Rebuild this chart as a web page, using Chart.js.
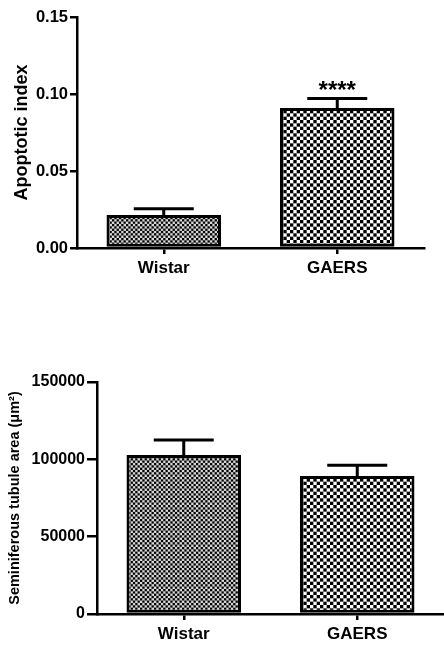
<!DOCTYPE html>
<html>
<head>
<meta charset="utf-8">
<script src="https://cdn.jsdelivr.net/npm/chart.js@4.4.1/dist/chart.umd.min.js"></script>
<style>
  html, body { margin: 0; padding: 0; background: #fff; }
  body { width: 444px; height: 646px; position: relative; overflow: hidden; }
  .box { position: absolute; left: 0; width: 444px; }
  #topBox { top: 0; height: 285px; }
  #bottomBox { top: 365px; height: 281px; }
</style>
</head>
<body>
<div class="box" id="topBox"><canvas id="apoptosisChart"></canvas></div>
<div class="box" id="bottomBox"><canvas id="tubuleChart"></canvas></div>
<script>
// data
const groups = ['Wistar', 'GAERS'];
const apoptoticMean = [0.0214, 0.0909];
const apoptoticSem = [0.0041, 0.0061];
const apoptoticStars = ['', '****'];
const apoptoticTicks = [0, 0.05, 0.10, 0.15];
const tubuleMean = [102800, 89200];
const tubuleSem = [9700, 6900];
const tubuleTicks = [0, 50000, 100000, 150000];

Chart.defaults.font.family = '"Liberation Sans", Arial, sans-serif';
Chart.defaults.font.weight = 'bold';
Chart.defaults.color = '#000';

// checkerboard fills like the GraphPad patterns
function checker(cell, light) {
    const c = document.createElement('canvas');
    c.width = Math.round(cell * 6);
    c.height = Math.round(cell * 6);
    const g = c.getContext('2d');
    g.fillStyle = light;
    g.fillRect(0, 0, c.width, c.height);
    g.fillStyle = '#000';
    for (let i = 0; i < 6; i++) {
        for (let j = 0; j < 6; j++) {
            if ((i + j) % 2 === 0) g.fillRect(i * cell, j * cell, cell, cell);
        }
    }
    return g.createPattern(c, 'repeat');
}

const finePattern = checker(2.3, '#d8d8d8');
const coarsePattern = checker(10 / 3, '#fff');

// SEM bars (upward only) + significance marks
const errorBars = {
    id: 'errorBars',
    afterDatasetsDraw(chart, args, opts) {
        const ctx = chart.ctx;
        const yScale = chart.scales.y;
        chart.data.datasets.forEach((ds, di) => {
            const meta = chart.getDatasetMeta(di);
            meta.data.forEach((bar, i) => {
                const top = yScale.getPixelForValue(ds.data[i] + opts.sem[i]);
                ctx.save();
                ctx.strokeStyle = '#000';
                ctx.lineWidth = 3;
                ctx.beginPath();
                ctx.moveTo(bar.x, bar.y);
                ctx.lineTo(bar.x, top);
                ctx.moveTo(bar.x - 30, top);
                ctx.lineTo(bar.x + 30, top);
                ctx.stroke();
                if (opts.stars && opts.stars[i]) {
                    ctx.fillStyle = '#000';
                    ctx.font = 'bold 24px "Liberation Sans", Arial, sans-serif';
                    ctx.textAlign = 'center';
                    ctx.textBaseline = 'alphabetic';
                    ctx.fillText(opts.stars[i], bar.x, top - 1);
                }
                ctx.restore();
            });
        });
    }
};

function makeChart(id, values, sem, stars, ticks, title, opt) {
    return new Chart(document.getElementById(id), {
        type: 'bar',
        data: {
            labels: groups,
            datasets: [{
                data: values,
                backgroundColor: [finePattern, coarsePattern],
                borderColor: '#000',
                borderWidth: 3,
                borderSkipped: false,
                barPercentage: 0.66,
                categoryPercentage: 1
            }]
        },
        options: {
            responsive: true,
            maintainAspectRatio: false,
            animation: false,
            layout: { padding: { top: 17, right: opt.right, bottom: 0, left: 0 } },
            scales: {
                x: {
                    grid: { offset: false, drawOnChartArea: false, color: '#000', lineWidth: 2.5, tickLength: 6 },
                    border: { color: '#000', width: 2.5 },
                    ticks: { font: { size: 17, weight: 'bold' }, padding: 4 },
                    afterFit(s) { s.height = opt.xHeight; }
                },
                y: {
                    min: ticks[0],
                    max: ticks[ticks.length - 1],
                    afterBuildTicks(s) { s.ticks = ticks.map(v => ({ value: v })); },
                    grid: { drawOnChartArea: false, color: '#000', lineWidth: 2.5, tickLength: opt.tickLen },
                    border: { color: '#000', width: 2.5 },
                    ticks: {
                        font: { size: opt.tickSize, weight: 'bold' },
                        padding: opt.tickPad,
                        callback: opt.fmt
                    },
                    title: {
                        display: true,
                        text: title,
                        font: { size: opt.titleSize, weight: 'bold', lineHeight: 1.2 },
                        padding: { top: opt.titlePad, bottom: 0 }
                    },
                    afterFit(s) { s.width = opt.yWidth; }
                }
            },
            plugins: {
                legend: { display: false },
                tooltip: { enabled: false },
                errorBars: { sem: sem, stars: stars }
            }
        },
        plugins: [errorBars]
    });
}

makeChart('apoptosisChart', apoptoticMean, apoptoticSem, apoptoticStars, apoptoticTicks,
    'Apoptotic index', {
        right: 20, xHeight: 37, yWidth: 77, tickLen: 7, tickSize: 16.5, tickPad: 2,
        titleSize: 18, titlePad: 11,
        fmt: v => Number(v).toFixed(2)
    });

makeChart('tubuleChart', tubuleMean, tubuleSem, [], tubuleTicks,
    'Seminiferous tubule area (\u03bcm\u00b2)', {
        right: 0, xHeight: 32, yWidth: 97, tickLen: 10, tickSize: 16, tickPad: 2,
        titleSize: 14.5, titlePad: 6,
        fmt: v => String(v)
    });
</script>
</body>
</html>
